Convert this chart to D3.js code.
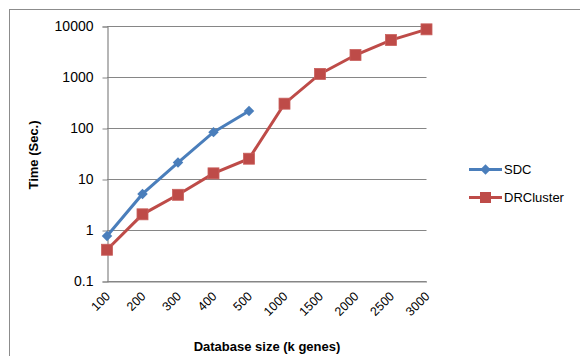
<!DOCTYPE html>
<html>
<head>
<meta charset="utf-8">
<script src="https://cdn.jsdelivr.net/npm/d3@7"></script>
<style>
  body { margin: 0; background: #fff; }
  svg { display: block; font-family: 'Liberation Sans', 'Open Sans', sans-serif; }
</style>
</head>
<body>
<svg id="chart" width="580" height="356"></svg>
<script>
const categories = ['100', '200', '300', '400', '500', '1000', '1500', '2000', '2500', '3000']
const sdcValues = [0.76, 5.1, 21, 83, 215]
const drValues = [0.41, 2.03, 4.9, 12.9, 25, 300, 1150, 2700, 5300, 8600]
const yTicks = [0.1, 1, 10, 100, 1000, 10000]

const blue = '#4a7ebb'
const red = '#be4b48'
const grid = '#868686'

const svg = d3.select('#chart')

// outer chart frame (runs off the right and bottom of the picture)
svg.append('rect')
  .attr('x', 9.5).attr('y', 9.5)
  .attr('width', 600).attr('height', 400)
  .attr('fill', 'none')
  .attr('stroke', '#8c8c8c')
  .attr('stroke-width', 1)

const x = d3.scalePoint().domain(categories).range([107, 426.5])
const y = d3.scaleLog().domain([0.1, 10000]).range([281, 26])

// gridlines
svg.append('g')
  .selectAll('line')
  .data(yTicks)
  .enter()
  .append('line')
  .attr('x1', 107).attr('x2', 426.5)
  .attr('y1', d => Math.round(y(d)) + 0.5)
  .attr('y2', d => Math.round(y(d)) + 0.5)
  .attr('stroke', grid)
  .attr('stroke-width', 1.2)

// y axis
const yAxis = svg.append('g')
  .attr('transform', 'translate(107.5,0.5)')
  .call(d3.axisLeft(y).tickValues(yTicks).tickFormat(d => String(d)).tickSize(5).tickPadding(9))
yAxis.select('.domain').attr('stroke', grid).attr('stroke-width', 1.2)
yAxis.selectAll('.tick line').attr('stroke', grid)
yAxis.selectAll('.tick text')
  .attr('font-size', 14)
  .attr('fill', '#000')
  .attr('font-family', "'Liberation Sans', sans-serif")

// x axis (horizontal line at the bottom)
const xAxis = svg.append('g')
  .attr('transform', 'translate(0,' + (Math.round(y(0.1)) + 0.5) + ')')
  .call(d3.axisBottom(x).tickSize(0).tickFormat(''))
xAxis.select('.domain').attr('stroke', grid).attr('stroke-width', 1.2)

svg.append('g')
  .selectAll('text')
  .data(categories)
  .enter()
  .append('text')
  .text(d => d)
  .attr('transform', d => 'translate(' + (x(d) + 4) + ',' + 297 + ') rotate(-45)')
  .attr('text-anchor', 'end')
  .attr('font-size', 12.5)
  .attr('fill', '#000')

// series lines
const line = d3.line()
  .x((d, i) => x(categories[i]))
  .y(d => y(d))

svg.append('path')
  .datum(drValues)
  .attr('d', line)
  .attr('fill', 'none')
  .attr('stroke', red)
  .attr('stroke-width', 3)

svg.append('path')
  .datum(sdcValues)
  .attr('d', line)
  .attr('fill', 'none')
  .attr('stroke', blue)
  .attr('stroke-width', 3)

// markers
const sq = 11
svg.append('g')
  .selectAll('rect')
  .data(drValues)
  .enter()
  .append('rect')
  .attr('x', (d, i) => x(categories[i]) - sq / 2)
  .attr('y', d => y(d) - sq / 2)
  .attr('width', sq).attr('height', sq)
  .attr('fill', red)
  .attr('stroke', '#c9605d')
  .attr('stroke-width', 0.8)

const diamond = d3.symbol().type(d3.symbolDiamond2).size(70)
svg.append('g')
  .selectAll('path')
  .data(sdcValues)
  .enter()
  .append('path')
  .attr('d', diamond)
  .attr('transform', (d, i) => 'translate(' + x(categories[i]) + ',' + y(d) + ')')
  .attr('fill', blue)

// axis titles
svg.append('text')
  .text('Time (Sec.)')
  .attr('transform', 'translate(38,155) rotate(-90)')
  .attr('text-anchor', 'middle')
  .attr('font-size', 13)
  .attr('font-weight', 'bold')

svg.append('text')
  .text('Database size (k genes)')
  .attr('x', 267).attr('y', 351)
  .attr('text-anchor', 'middle')
  .attr('font-size', 13)
  .attr('font-weight', 'bold')

// legend
const legend = [
  { name: 'SDC', color: blue, y: 169.5, shape: 'diamond' },
  { name: 'DRCluster', color: red, y: 197.5, shape: 'square' }
]
const lg = svg.append('g')
legend.forEach(item => {
  lg.append('line')
    .attr('x1', 469).attr('x2', 502)
    .attr('y1', item.y).attr('y2', item.y)
    .attr('stroke', item.color)
    .attr('stroke-width', 3)
  if (item.shape === 'diamond') {
    lg.append('path')
      .attr('d', diamond)
      .attr('transform', 'translate(485.5,' + item.y + ')')
      .attr('fill', item.color)
  } else {
    lg.append('rect')
      .attr('x', 485.5 - sq / 2).attr('y', item.y - sq / 2)
      .attr('width', sq).attr('height', sq)
      .attr('fill', item.color)
  }
  lg.append('text')
    .text(item.name)
    .attr('x', 504).attr('y', item.y + 4.5)
    .attr('font-size', 13)
    .attr('fill', '#000')
})
</script>
</body>
</html>
